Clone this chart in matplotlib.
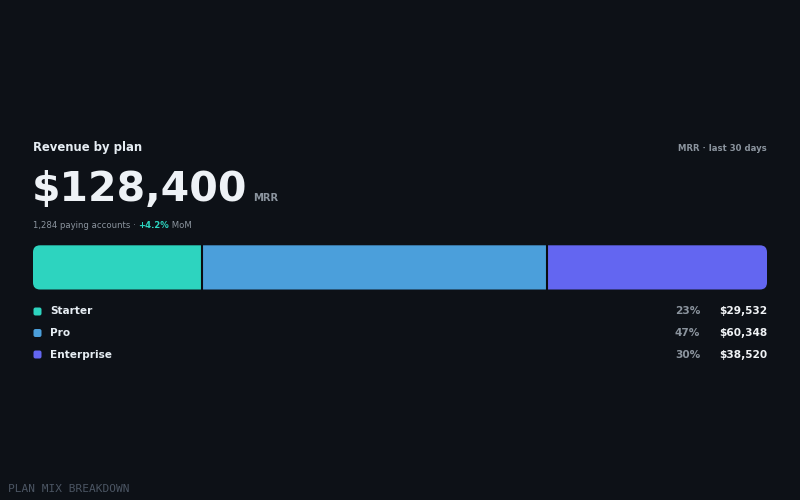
import matplotlib
matplotlib.use("Agg")
import matplotlib.pyplot as plt
from matplotlib.patches import FancyBboxPatch
import numpy as np

# ---- data ----
plans = ["Starter", "Pro", "Enterprise"]
revenue = [29532, 60348, 38520]
shares = ["23%", "47%", "30%"]
colors = ["#2dd4bf", "#4b9fdb", "#6366f1"]
total_label = "$128,400"
accounts_label = "1,284 paying accounts · "
growth_label = "+4.2%"
title = "Revenue by plan"
period_label = "MRR · last 30 days"
footer = "PLAN MIX BREAKDOWN"

BG = "#0d1117"
WHITE = "#e6edf3"
MUTED = "#8b949e"
TEAL = "#2dd4bf"

plt.rcParams['font.family'] = ['DejaVu Sans']

fig = plt.figure(figsize=(8, 5), dpi=100, facecolor=BG)
ov = fig.add_axes([0, 0, 1, 1])
ov.set_xlim(0, 800)
ov.set_ylim(500, 0)
ov.axis("off")
ov.set_facecolor(BG)

L, R = 33, 767

# header
ov.text(L, 151, title, color=WHITE, fontsize=8.4, fontweight="bold", va="baseline", ha="left")
ov.text(R, 151, period_label, color=MUTED, fontsize=6.1, fontweight="bold", va="baseline", ha="right")

big = ov.text(L - 1, 201, total_label, color="#eef2f6", fontsize=29.5, fontweight="bold",
              va="baseline", ha="left")
ov.annotate("MRR", xy=(1, 0), xycoords=big, xytext=(6, 7), textcoords="offset pixels",
            color=MUTED, fontsize=7.2, fontweight="bold", va="bottom", ha="left")

t1 = ov.text(L, 228, accounts_label, color=MUTED, fontsize=6.1, va="baseline", ha="left")
t2 = ov.annotate(growth_label, xy=(1, 0), xycoords=t1, color=TEAL, fontsize=6.1,
                 fontweight="bold", va="bottom", ha="left")
ov.annotate(" MoM", xy=(1, 0), xycoords=t2, color=MUTED, fontsize=6.1, va="bottom", ha="left")

# stacked bar
bar_top, bar_bot = 245.3, 289.5
bax = fig.add_axes([L / 800, 1 - bar_bot / 500, (R - L) / 800, (bar_bot - bar_top) / 500])
bax.axis("off")
total = float(np.sum(revenue))
lefts = np.concatenate([[0], np.cumsum(revenue)[:-1]])
bars = bax.barh(0, revenue, left=lefts, height=1.0, color=colors, linewidth=0)
bax.set_xlim(0, total)
bax.set_ylim(-0.5, 0.5)
for x in np.cumsum(revenue)[:-1]:
    bax.axvline(x, color="#0a0d12", lw=1.5)

clip = FancyBboxPatch((L, bar_top), R - L, bar_bot - bar_top,
                      boxstyle="round,pad=0,rounding_size=7",
                      transform=ov.transData, facecolor="none", edgecolor="none")
ov.add_patch(clip)
for b in bars:
    b.set_clip_path(clip)

# legend rows
row_y = [311.5, 333, 354.5]
for i, (p, s, v, c) in enumerate(zip(plans, shares, revenue, colors)):
    y = row_y[i]
    ov.add_patch(FancyBboxPatch((L + 0.5, y - 4), 8, 8, boxstyle="round,pad=0,rounding_size=2",
                                facecolor=c, edgecolor="none", transform=ov.transData))
    ov.text(50, y, p, color=WHITE, fontsize=7.6, fontweight="bold", va="center", ha="left")
    ov.text(700, y, s, color=MUTED, fontsize=7.6, fontweight="bold", va="center", ha="right")
    ov.text(R, y, f"${v:,}", color="#f0f3f6", fontsize=7.6, fontweight="bold", va="center", ha="right")

# footer
ov.text(8, 491.5, footer, color="#4b5563", fontsize=8, family="DejaVu Sans Mono",
        va="baseline", ha="left")

fig.savefig("out.png", dpi=100, facecolor=BG)
